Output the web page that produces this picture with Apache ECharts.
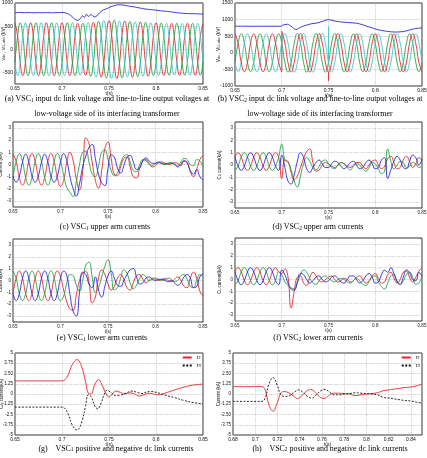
<!DOCTYPE html>
<html>
<head>
<meta charset="utf-8">
<script src="https://cdn.jsdelivr.net/npm/echarts@6.0.0/dist/echarts.min.js"></script>
<style>
html,body{margin:0;padding:0;background:#fff;}
#chart{width:427px;height:458px;}
</style>
</head>
<body>
<div id="chart"></div>
<script>
// ---------- sampling clocks ----------
const tStart = 0.65;
const dtA = 1 / 360;   // panel (a) waveform samples
const dtB = 1 / 300;   // panels (b)-(f) waveform samples

// ---------- tick labels ----------
const xTicksMain = [0.65, 0.7, 0.75, 0.8, 0.85];
const xTicksH = [0.68, 0.7, 0.72, 0.74, 0.76, 0.78, 0.8, 0.82, 0.84];
const yTicksA = [-500, 0, 500, 1000];
const yTicksB = [-1000, -500, 0, 500, 1000, 1500];
const yTicksArm = [-3, -2, -1, 0, 1, 2, 3];
const yTicksDc = [-5, -3.75, -2.5, -1.25, 0, 1.25, 2.5, 3.75, 5];
const yTickTextG = ['-5', '-3.75', '-2.5', '-1.25', '0', '1.25', '2.50', '3.75', '5'];
const yTickTextH = ['-5', '-3.75', '-2.50', '-1.25', '0', '1.25', '2.50', '3.75', '5'];

// ---------- (a) VSC1 voltages (kV) ----------
const aRed = [
  570,285,-285,-570,-285,285, 570,285,-285,-570,-285,285,
  570,285,-285,-570,-285,285, 570,285,-285,-570,-285,285,
  560,280,-280,-560,-280,290, 580,290,-295,-600,-300,305,
  620,310,-315,-630,-310,305, 610,300,-300,-600,-295,295,
  590,290,-290,-580,-290,285, 570,285,-280,-565,-280,280,
  560,280,-280,-560,-280,280, 560,280,-280,-560,-280,280, 560];
const aGreen = [
  -285,285,570,285,-285,-570, -285,285,570,285,-285,-570,
  -285,285,570,285,-285,-570, -285,285,570,285,-285,-570,
  -280,280,560,285,-290,-580, -295,300,600,305,-310,-620,
  -315,315,630,310,-305,-615, -300,300,600,295,-295,-590,
  -290,290,580,285,-285,-570, -285,280,565,280,-280,-560,
  -280,280,560,280,-280,-560, -280,280,560,280,-280,-560, -280];
const aCyan = [
  -285,-570,-285,285,570,285, -285,-570,-285,285,570,285,
  -285,-570,-285,285,570,285, -285,-570,-285,285,570,285,
  -280,-560,-285,290,580,295, -300,-600,-310,310,620,315,
  -315,-630,-305,305,610,305, -300,-600,-295,295,590,290,
  -290,-580,-285,285,570,285, -280,-565,-280,280,560,280,
  -280,-560,-280,280,560,280, -280,-560,-280,280,560,280, -280];
const aDc = [[0.65,790],[0.655,796],[0.66,790],[0.665,794],[0.67,788],[0.675,792],[0.68,789],[0.685,793],
  [0.69,788],[0.695,792],[0.70,795],[0.704,785],[0.708,750],[0.712,680],[0.716,625],[0.719,650],[0.722,720],
  [0.724,690],[0.726,760],[0.728,710],[0.731,750],[0.734,700],[0.737,720],[0.74,790],[0.744,850],[0.748,880],
  [0.752,920],[0.756,945],[0.76,962],[0.764,958],[0.768,945],[0.772,930],[0.777,915],[0.782,895],[0.787,875],
  [0.792,862],[0.797,852],[0.802,840],[0.807,828],[0.812,818],[0.817,805],[0.822,792],[0.827,780],[0.832,772],
  [0.837,770],[0.842,768],[0.847,762],[0.85,760]];

// ---------- (b) VSC2 voltages (kV) ----------
const bGreen = [
  -285,285,570,285,-285,-570, -285,285,570,285,-285,-570,
  -285,285,570,290,-290,-580, -290,290,580,290,-290,-580,
  -290,290,580,290,-290,-580, -290,290,580,285,-285,-575,
  -285,285,570,285,-285,-570, -285,285,570,285,-285,-570,
  -285,285,570,285,-285,-570, -285,285,570,285,-285,-570, -285];
const bCyan = [
  -285,-570,-285,285,570,285, -285,-570,-285,285,570,285,
  -285,-570,-285,290,580,290, -290,-580,-290,290,580,290,
  -290,-580,-290,290,580,290, -290,-580,-290,285,570,285,
  -285,-570,-285,285,570,285, -285,-570,-285,285,570,285,
  -285,-570,-285,285,570,285, -285,-570,-285,285,570,285, -285];
const bRedBefore = [570,285,-285,-570,-285,285, 570,285,-285,-570,-285,285, 570,285,-285,-580];
const bRedAfter = [650,290,-290,
  -580,-290,290,580,290,-290, -580,-290,290,580,290,-290,
  -580,-290,290,580,285,-285,
  -570,-285,285,570,285,-285, -570,-285,285,570,285,-285,
  -570,-285,285,570,285,-285, -570,-285,285,570,285,-285, -570];
const bSpikeRed1 = [[0.7,-580],[0.7,650]];
const bSpikeCyan1 = [[0.7,-550],[0.7,650]];
const bSpikeCyan2 = [[0.75,-290],[0.75,800]];
const bSpikeRed2 = [[0.75,-580],[0.75,-850]];
const bDc = [[0.65,800],[0.66,802],[0.67,798],[0.68,801],[0.69,799],[0.6995,800],[0.7005,830],[0.706,860],
  [0.71,800],[0.715,700],[0.72,770],[0.725,820],[0.731,870],[0.738,900],[0.744,950],[0.75,1000],[0.756,960],
  [0.763,930],[0.77,915],[0.78,890],[0.786,850],[0.791,800],[0.797,750],[0.802,700],[0.812,650],[0.821,625],
  [0.83,640],[0.836,680],[0.841,720],[0.85,750]];

// ---------- (c) VSC1 upper arm currents (kA) ----------
const cRed = [0.9,0.25,-1.05,-1.7,-1.05,0.25, 0.9,0.25,-1.05,-1.7,-1.05,0.25, 0.9,0.25,-1.05,
  -1.8,-1.3,0.2,1.0,0.3,-1.2, -2.1,-0.6,2.2,1.7,0.2,-1.3, -1.95,-0.5,1.3,1.85,0.5,-0.8,
  -0.9,-0.2,0.5,0.6,-0.2,-1.0, -1.1,-0.3,0.3,0.4,0.1,-0.2, -0.1,0.15,0.2,0.1,0.0,0.05,
  0.15,0.1,-0.1,0.3,0.2,-0.6, -1.0,-0.4,0.4,0.75];
const cGreen = [-1.05,0.25,0.9,0.25,-1.05,-1.7, -1.05,0.25,0.9,0.25,-1.05,-1.7, -1.05,0.25,0.9,
  0.3,-0.9,-1.9,-2.3,-2.65,-1.4, 0.0,1.0,1.1,0.2,-0.8,-1.0, -0.1,1.0,1.2,0.4,-0.5,-0.9,
  -0.7,0.1,0.7,0.8,0.2,-0.5, -0.6,0.0,0.4,0.3,0.0,-0.1, 0.1,0.15,0.05,0.0,0.1,0.15,
  0.05,-0.1,0.2,0.5,0.4,0.0, -0.1,0.4,0.3,-0.2];
const cBlue = [-0.95,-1.45,-0.95,0.2,0.85,0.2, -0.95,-1.45,-0.95,0.2,0.85,0.2, -0.95,-1.45,-0.95,
  0.2,0.9,0.3,-1.0,-2.0,-2.6, -1.6,-0.2,0.7,1.4,1.65,0.5, -0.8,-1.5,-1.75,-0.3,0.8,0.6,
  -0.3,-0.7,-0.1,0.6,0.75,0.2, -0.4,-0.3,0.3,0.55,0.3,0.1, 0.1,0.2,0.1,0.05,0.1,0.1,
  0.0,-0.2,0.0,0.3,0.1,-0.5, -0.8,-0.4,-1.0,-1.3];

// ---------- (d) VSC2 upper arm currents (kA) ----------
const dRed = [0.64,1.0,0.64,-0.08,-0.44,-0.08, 0.64,1.0,0.64,-0.08,-0.44,-0.08, 0.64,1.0,0.64,
  -1.1,0.4,0.3,-0.6,-1.2,-0.9, -0.2,0.5,1.1,1.3,0.2,-0.5, -0.4,0.0,0.2,0.1,-0.1,-0.2,
  0.0,0.2,0.1,-0.1,-0.2,0.0, 0.2,0.2,-0.1,-0.3,0.0,0.3, 0.4,0.0,-0.3,-0.1,0.5,0.7,
  0.2,-0.3,-0.2,0.4,0.7,0.3, -0.2,0.1,0.6,0.4];
const dGreen = [-0.44,-0.08,0.64,1.0,0.64,-0.08, -0.44,-0.08,0.64,1.0,0.64,-0.08, -0.44,-0.08,0.64,
  1.7,0.4,0.2,-0.4,-1.3,-1.8, -0.9,0.1,0.6,0.3,-0.2,-0.4, -0.1,0.3,0.4,0.1,-0.2,-0.3,
  0.0,0.2,0.1,-0.2,-0.4,-0.1, 0.1,0.0,-0.3,-0.5,-0.2,0.2, 0.1,-0.3,-0.7,-0.5,1.3,0.3,
  -0.3,0.0,0.3,0.2,-0.2,-0.1, 0.2,0.1,-0.2,-0.1];
const dBlue = [0.64,-0.08,-0.44,-0.08,0.64,1.0, 0.64,-0.08,-0.44,-0.08,0.64,1.0, 0.64,-0.08,-0.44,
  0.8,-0.2,-1.3,-1.55,-0.8,0.3, 1.0,0.6,-0.3,-0.6,-0.2,0.2, 0.4,0.1,-0.2,-0.2,0.1,0.3,
  0.2,-0.1,-0.3,-0.1,0.2,0.3, 0.0,-0.3,-0.2,0.2,0.4,0.1, -0.3,-0.2,0.4,0.6,-1.1,-0.4,
  0.3,0.7,0.4,-0.2,-0.3,0.3, 0.8,0.6,0.0,0.5];

// ---------- (e) VSC1 lower arm currents (kA) ----------
const eRed = [-1.08,0.18,0.8,0.18,-1.08,-1.7, -1.08,0.18,0.8,0.18,-1.08,-1.7, -1.08,0.18,0.8,
  0.3,-0.8,-1.8,-2.4,-2.5,-1.2, 0.0,0.6,0.75,-0.2,-1.9,-1.4, 0.2,0.9,0.5,-0.3,-0.8,-0.5,
  0.2,0.5,0.1,-0.6,-0.8,-0.2, 0.4,0.5,0.1,-0.2,0.0,0.2, 0.1,0.0,0.1,0.15,0.0,-0.1,
  0.1,0.3,0.0,-0.5,-0.6,0.2, 0.7,0.2,-0.9,-1.3];
const eGreen = [0.8,0.18,-1.08,-1.7,-1.08,0.18, 0.8,0.18,-1.08,-1.7,-1.08,0.18, 0.8,0.18,-1.08,
  -1.7,-1.3,-0.2,0.5,0.4,-0.4, -0.9,0.0,1.3,1.55,0.3,-1.0, -0.6,0.3,1.2,1.75,0.6,-0.8,
  -0.6,0.2,0.9,0.6,-0.2,-0.7, -0.4,0.2,0.5,0.3,0.0,0.1, 0.2,0.1,0.0,0.1,0.2,0.1,
  -0.1,0.0,0.4,0.5,0.1,-0.5, -0.6,0.0,0.5,0.3];
const eBlue = [-1.08,-1.7,-1.08,0.18,0.8,0.18, -1.08,-1.7,-1.08,0.18,0.8,0.18, -1.08,-1.7,-1.08,
  0.2,0.8,0.4,-1.2,-2.6,-3.0, -1.0,0.7,0.5,-0.3,-0.6,0.3, -0.8,-1.4,-0.5,0.4,0.8,0.2,
  -0.4,-0.5,0.0,0.5,0.9,1.0, 0.3,-0.3,-0.2,0.2,0.3,0.1, 0.0,0.1,0.1,0.0,-0.1,0.0,
  -0.2,-0.4,-0.2,0.3,0.5,0.2, -0.6,-0.5,0.3,0.6];

// ---------- (f) VSC2 lower arm currents (kA) ----------
const fRed = [0.64,1.0,0.64,-0.08,-0.44,-0.08, 0.64,1.0,0.64,-0.08,-0.44,-0.08, 0.64,1.0,0.64,
  0.5,0.9,0.2,-2.4,-1.0,0.2, 0.3,-0.3,-0.5,0.2,0.6,0.3, -0.1,-0.2,0.0,0.2,0.3,0.0,
  -0.2,-0.1,0.1,0.0,-0.2,-0.1, 0.2,0.3,0.0,-0.3,-0.1,0.3, 0.5,0.1,-0.3,-0.2,0.4,0.6,
  0.1,-0.3,0.0,0.6,0.7,0.2, -0.2,0.2,0.7,1.0];
const fGreen = [-0.44,-0.08,0.64,1.0,0.64,-0.08, -0.44,-0.08,0.64,1.0,0.64,-0.08, -0.44,-0.08,0.64,
  0.4,-0.2,-0.5,-0.7,-0.8,-0.3, 0.4,0.8,0.6,0.1,-0.3,-0.4, -0.1,0.2,0.3,0.1,-0.1,-0.2,
  0.0,0.1,0.0,-0.2,-0.3,-0.1, 0.1,-0.1,-0.4,-0.5,-0.2,0.2, 0.3,-0.2,-0.6,-0.8,-0.3,0.3,
  0.4,-0.1,-0.4,-0.1,0.4,0.6, 0.2,-0.4,-0.3,0.3];
const fBlue = [0.64,-0.08,-0.44,-0.08,0.64,1.0, 0.64,-0.08,-0.44,-0.08,0.64,1.0, 0.64,-0.08,-0.44,
  0.8,0.4,-0.3,-0.8,-0.9,-0.2, 0.5,0.4,0.0,-0.3,-0.1,0.2, 0.3,0.0,-0.2,-0.1,0.2,0.3,
  0.1,-0.2,-0.3,0.0,0.3,0.3, 0.0,-0.3,-0.1,0.3,0.5,0.2, -0.3,-0.2,0.4,0.8,0.6,1.0,
  0.5,-0.2,-0.4,0.2,0.8,0.6, 0.0,-0.1,0.6,0.3];

// ---------- (g) VSC1 dc link currents (kA) ----------
const gIP = [[0.65,1.6],[0.70,1.6],[0.702,1.65],[0.706,2.2],[0.711,3.6],[0.716,4.2],[0.721,3.3],[0.725,1.5],
  [0.728,0.1],[0.731,0.0],[0.735,1.2],[0.739,1.75],[0.743,1.0],[0.747,0.0],[0.75,-0.35],[0.753,-0.1],
  [0.757,0.35],[0.762,0.2],[0.767,0.0],[0.772,0.15],[0.777,0.0],[0.782,-0.25],[0.787,-0.1],[0.792,0.1],
  [0.797,0.0],[0.802,-0.1],[0.807,0.0],[0.812,0.2],[0.82,0.5],[0.83,0.85],[0.84,1.1],[0.85,1.2]];
const gIN = [[0.65,-1.6],[0.70,-1.6],[0.702,-1.65],[0.706,-2.3],[0.711,-3.8],[0.716,-4.4],[0.721,-3.4],
  [0.725,-1.5],[0.728,-0.1],[0.731,-0.3],[0.735,-1.5],[0.738,-1.8],[0.742,-1.0],[0.745,0.0],[0.748,0.45],
  [0.752,0.2],[0.757,-0.2],[0.762,-0.15],[0.768,0.1],[0.774,0.35],[0.78,0.2],[0.785,0.05],[0.79,0.25],
  [0.795,0.3],[0.8,0.2],[0.805,0.05],[0.81,-0.15],[0.82,-0.45],[0.83,-0.8],[0.84,-1.05],[0.85,-1.2]];

// ---------- (h) VSC2 dc link currents (kA) ----------
const hIP = [[0.68,0.9],[0.706,0.9],[0.709,0.5],[0.712,-1.2],[0.716,-2.1],[0.72,-1.0],[0.723,0.1],[0.726,0.3],
  [0.73,0.15],[0.734,-0.2],[0.738,-0.55],[0.742,-0.2],[0.746,0.35],[0.75,0.55],[0.754,0.2],[0.758,-0.35],
  [0.762,-0.55],[0.766,-0.2],[0.77,0.1],[0.775,0.1],[0.78,0.05],[0.785,0.0],[0.79,-0.2],[0.795,-0.1],
  [0.8,0.0],[0.805,0.05],[0.81,0.15],[0.815,0.4],[0.82,0.5],[0.825,0.6],[0.83,0.7],[0.835,0.8],[0.84,0.85],
  [0.845,1.0],[0.85,1.2]];
const hIN = [[0.68,-0.9],[0.706,-0.9],[0.709,-0.5],[0.712,1.1],[0.716,2.0],[0.72,1.0],[0.723,-0.1],[0.727,-0.3],
  [0.731,-0.2],[0.735,0.2],[0.739,0.5],[0.743,0.2],[0.747,-0.3],[0.751,-0.5],[0.755,-0.1],[0.759,0.4],
  [0.763,0.55],[0.767,0.2],[0.771,-0.1],[0.776,-0.1],[0.78,0.0],[0.785,0.05],[0.79,0.15],[0.795,0.1],
  [0.8,0.05],[0.805,0.0],[0.81,-0.1],[0.815,-0.4],[0.82,-0.5],[0.825,-0.6],[0.83,-0.7],[0.835,-0.8],
  [0.84,-0.85],[0.845,-1.0],[0.85,-1.1]];

// ---------- styling ----------
const RED = '#e3262e', GREEN = '#23a040', BLUE = '#2626d8', CYAN = '#3cc6c6', BLACK = '#111';
const GC = '#a8a8a8';
const FONT = 'Liberation Sans';
const SERIF = 'Liberation Serif';

function pairs(t0, dt, vals, offset) {
  const o = offset || 0;
  return vals.map((v, i) => [t0 + (i + o) * dt, v]);
}
function tickFmt(ticks, texts) {
  return function (v) {
    for (let k = 0; k < ticks.length; k++) {
      if (Math.abs(v - ticks[k]) < 1e-6) return texts ? texts[k] : String(ticks[k]);
    }
    return '';
  };
}

const layouts = [
  {left: 15,  top: 3,   width: 188, height: 81},
  {left: 235, top: 3,   width: 187, height: 83},
  {left: 13,  top: 122, width: 190, height: 85},
  {left: 235, top: 122, width: 187, height: 86},
  {left: 13,  top: 239, width: 190, height: 83},
  {left: 235, top: 238, width: 187, height: 83},
  {left: 15,  top: 353, width: 188, height: 82},
  {left: 233, top: 353, width: 189, height: 82}
];
const yCfg = [
  {min: -750, max: 1000, interval: 250, ticks: yTicksA, split: ['transparent', GC], name: 'v{s|dc} , v{s|LL,abc} (kV)', gap: 9, fs: 5},
  {min: -1000, max: 1500, interval: 500, ticks: yTicksB, split: [GC], name: 'V{s|dc} , V{s|LL,abc} (kV)', gap: 14, fs: 5},
  {min: -3.5, max: 3.5, interval: 0.5, ticks: yTicksArm, split: ['transparent', GC], name: 'Current (kA)', gap: 9.5, fs: 4.5},
  {min: -3.5, max: 3.5, interval: 0.5, ticks: yTicksArm, split: ['transparent', GC], name: 'C{s|U} current(kA)', gap: 13, fs: 4.5},
  {min: -3.5, max: 3.5, interval: 0.5, ticks: yTicksArm, split: ['transparent', GC], name: 'Current(kA)', gap: 9.5, fs: 4.5},
  {min: -3.5, max: 3.5, interval: 0.5, ticks: yTicksArm, split: ['transparent', GC], name: 'C{s|L} current(kA)', gap: 13, fs: 4.5},
  {min: -5, max: 5, interval: 1.25, ticks: yTicksDc, texts: yTickTextG, split: [GC], name: 'C{s|dc} current(kA)', gap: 11, fs: 4.5},
  {min: -5, max: 5, interval: 1.25, ticks: yTicksDc, texts: yTickTextH, split: [GC], name: 'Current (kA)', gap: 12, fs: 4.5}
];
const xCfg = [0,1,2,3,4,5,6].map(() => ({min: 0.65, max: 0.85, interval: 0.05, ticks: xTicksMain}));
xCfg.push({min: 0.68, max: 0.85, interval: 0.02, ticks: xTicksH});

const grid = layouts.map(l => Object.assign({show: true, borderColor: '#000', borderWidth: 0.8,
  backgroundColor: 'transparent', containLabel: false, outerBoundsMode: 'none'}, l));

const xAxis = xCfg.map((c, i) => ({
  gridIndex: i, type: 'value', min: c.min, max: c.max, interval: c.interval,
  axisLine: {show: false}, axisTick: {show: false},
  axisLabel: {show: true, fontSize: i >= 2 && i <= 5 ? 4.5 : 5, color: BLACK, margin: 2.5, fontFamily: FONT,
    formatter: tickFmt(c.ticks), hideOverlap: false, showMinLabel: true, showMaxLabel: true},
  splitLine: {show: true, lineStyle: {color: GC, type: 'dotted', width: 0.6}},
  name: 't(s)', nameLocation: 'middle', nameGap: 7.5, nameMoveOverlap: false,
  nameTextStyle: {fontSize: i >= 2 && i <= 5 ? 4.5 : 5, color: BLACK, fontFamily: FONT}
}));

const yAxis = yCfg.map((c, i) => ({
  gridIndex: i, type: 'value', min: c.min, max: c.max, interval: c.interval,
  axisLine: {show: false}, axisTick: {show: false},
  axisLabel: {show: true, fontSize: c.fs, color: BLACK, margin: 2, fontFamily: FONT,
    formatter: tickFmt(c.ticks, c.texts), hideOverlap: false, showMinLabel: true, showMaxLabel: true},
  splitLine: {show: true, lineStyle: {color: c.split, type: 'dotted', width: 0.6}},
  name: c.name, nameLocation: 'middle', nameRotate: 90, nameGap: c.gap, nameMoveOverlap: false,
  nameTextStyle: {fontSize: c.fs, color: BLACK, fontFamily: FONT,
    rich: {s: {fontSize: c.fs * 0.7, color: BLACK, fontFamily: FONT, verticalAlign: 'bottom'}}}
}));

function line(idx, data, color, extra) {
  return Object.assign({
    type: 'line', xAxisIndex: idx, yAxisIndex: idx, data: data, symbol: 'none',
    smooth: 0.5, lineStyle: {color: color, width: 0.9}, itemStyle: {color: color},
    silent: true, animation: false, clip: true
  }, extra || {});
}
const straight = {smooth: false};

const series = [
  // (a)
  line(0, pairs(tStart, dtA, aRed), RED),
  line(0, pairs(tStart, dtA, aGreen), GREEN),
  line(0, pairs(tStart, dtA, aCyan), CYAN),
  line(0, aDc, BLUE, {smooth: 0.3}),
  // (b)
  line(1, pairs(tStart, dtB, bGreen), GREEN),
  line(1, pairs(tStart, dtB, bCyan), CYAN),
  line(1, pairs(tStart, dtB, bRedBefore), RED),
  line(1, pairs(tStart, dtB, bRedAfter, 15), RED),
  line(1, bSpikeRed1, RED, straight),
  line(1, bSpikeCyan1, CYAN, straight),
  line(1, bSpikeCyan2, CYAN, straight),
  line(1, bSpikeRed2, RED, straight),
  line(1, bDc, BLUE, {smooth: 0.3}),
  // (c)
  line(2, pairs(tStart, dtB, cRed), RED),
  line(2, pairs(tStart, dtB, cGreen), GREEN),
  line(2, pairs(tStart, dtB, cBlue), BLUE),
  // (d)
  line(3, pairs(tStart, dtB, dRed), RED),
  line(3, pairs(tStart, dtB, dGreen), GREEN),
  line(3, pairs(tStart, dtB, dBlue), BLUE),
  // (e)
  line(4, pairs(tStart, dtB, eRed), RED),
  line(4, pairs(tStart, dtB, eGreen), GREEN),
  line(4, pairs(tStart, dtB, eBlue), BLUE),
  // (f)
  line(5, pairs(tStart, dtB, fRed), RED),
  line(5, pairs(tStart, dtB, fGreen), GREEN),
  line(5, pairs(tStart, dtB, fBlue), BLUE),
  // (g)
  line(6, gIP, RED, {name: 'gIP', smooth: 0.4}),
  line(6, gIN, BLACK, {name: 'gIN', smooth: 0.4, lineStyle: {color: BLACK, width: 0.9, type: [2, 1.5]}}),
  // (h)
  line(7, hIP, RED, {name: 'hIP', smooth: 0.4}),
  line(7, hIN, BLACK, {name: 'hIN', smooth: 0.4, lineStyle: {color: BLACK, width: 0.9, type: [2, 1.5]}})
];

const legendText = {gIP: 'I{s|P}', gIN: 'I{s|N}', hIP: 'I{s|P}', hIN: 'I{s|N}'};
function legend(names, right, top) {
  return {
    show: true, orient: 'vertical', right: right, top: top, data: names,
    itemWidth: 9, itemHeight: 3, itemGap: 3, padding: 0, selectedMode: false,
    itemStyle: {color: 'transparent', borderColor: 'transparent', borderWidth: 0},
    formatter: n => legendText[n],
    textStyle: {fontSize: 5, color: BLACK, fontFamily: SERIF,
      rich: {s: {fontSize: 3.6, color: BLACK, fontFamily: SERIF, verticalAlign: 'bottom'}}}
  };
}

const captions = [
  {x: 107, y: 99, text: '(a) VSC{s|1} input dc link voltage and line-to-line output voltages at'},
  {x: 107, y: 114, text: 'low-voltage side of its interfacing transformer'},
  {x: 320, y: 99, text: '(b) VSC{s|2} input dc link voltage and line-to-line output voltages at'},
  {x: 320, y: 114, text: 'low-voltage side of its interfacing transformer'},
  {x: 105, y: 227, text: '(c) VSC{s|1} upper arm currents'},
  {x: 318, y: 227, text: '(d) VSC{s|2} upper arm currents'},
  {x: 102, y: 338, text: '(e) VSC{s|1} lower arm currents'},
  {x: 318, y: 338, text: '(f) VSC{s|2} lower arm currents'},
  {x: 116, y: 448.5, text: '(g)    VSC{s|1} positive and negative dc link currents'},
  {x: 330, y: 448.5, text: '(h)    VSC{s|2} positive and negative dc link currents'}
];
const graphic = captions.map(c => ({
  type: 'text', x: c.x, y: c.y, silent: true,
  style: {text: c.text, fill: '#000', fontSize: 7.9, fontFamily: SERIF,
    align: 'center', verticalAlign: 'middle', textAlign: 'center', textVerticalAlign: 'middle',
    rich: {s: {fontSize: 5.4, fill: '#000', fontFamily: SERIF, verticalAlign: 'bottom'}}}
}));

const chart = echarts.init(document.getElementById('chart'), null, {renderer: 'canvas', width: 427, height: 458});
chart.setOption({
  animation: false,
  backgroundColor: '#fff',
  textStyle: {fontFamily: FONT},
  grid: grid,
  xAxis: xAxis,
  yAxis: yAxis,
  legend: [legend(['gIP', 'gIN'], 226, 355), legend(['hIP', 'hIN'], 7, 355)],
  graphic: graphic,
  series: series
});
</script>
</body>
</html>
